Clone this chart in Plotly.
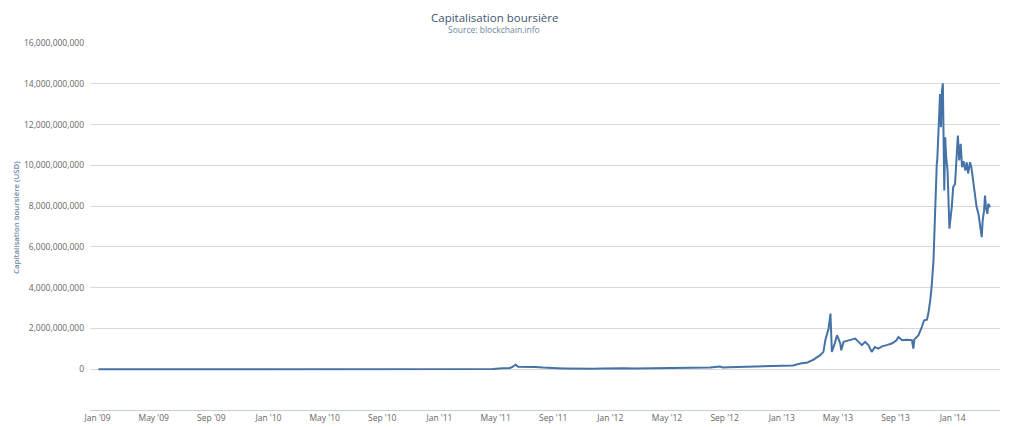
import plotly.graph_objects as go

# ---- data (market cap in billions of USD) ----
dates = [
    "2009-01-03", "2009-07-01", "2010-01-01", "2010-07-17", "2010-12-31",
    "2011-02-10", "2011-04-01", "2011-04-25", "2011-05-15", "2011-06-01",
    "2011-06-06", "2011-06-13", "2011-06-18", "2011-06-25", "2011-07-10",
    "2011-07-25", "2011-08-10", "2011-08-25", "2011-09-10", "2011-09-25",
    "2011-10-15", "2011-11-10", "2011-11-25", "2011-12-15", "2012-01-10",
    "2012-02-01", "2012-02-20", "2012-03-15", "2012-04-15", "2012-05-15",
    "2012-06-15", "2012-07-10", "2012-08-01", "2012-08-22", "2012-08-28",
    "2012-09-10", "2012-10-01", "2012-11-01", "2012-12-01", "2013-01-01",
    "2013-01-25", "2013-02-10", "2013-02-25", "2013-03-10", "2013-03-18",
    "2013-03-24", "2013-03-31", "2013-04-04", "2013-04-08", "2013-04-11",
    "2013-04-15", "2013-04-16", "2013-04-18", "2013-04-23", "2013-04-29",
    "2013-05-02", "2013-05-06", "2013-05-08", "2013-05-13", "2013-05-20",
    "2013-05-27", "2013-06-07", "2013-06-14", "2013-06-21", "2013-06-28",
    "2013-07-05", "2013-07-12", "2013-07-19", "2013-07-26", "2013-08-03",
    "2013-08-13", "2013-08-24", "2013-09-03", "2013-09-07", "2013-09-15",
    "2013-09-25", "2013-10-06", "2013-10-09", "2013-10-11", "2013-10-20",
    "2013-10-27", "2013-11-01", "2013-11-07", "2013-11-10", "2013-11-14",
    "2013-11-17", "2013-11-21", "2013-11-23", "2013-11-25", "2013-11-28",
    "2013-11-29", "2013-12-01", "2013-12-03", "2013-12-05", "2013-12-07",
    "2013-12-09", "2013-12-11", "2013-12-12", "2013-12-14", "2013-12-16",
    "2013-12-18", "2013-12-21", "2013-12-25", "2013-12-30", "2014-01-02",
    "2014-01-06", "2014-01-09", "2014-01-12", "2014-01-15", "2014-01-18",
    "2014-01-21", "2014-01-24", "2014-01-28", "2014-01-31", "2014-02-03",
    "2014-02-07", "2014-02-10", "2014-02-14", "2014-02-18", "2014-02-21",
    "2014-02-25", "2014-02-28", "2014-03-04", "2014-03-06", "2014-03-09",
    "2014-03-11", "2014-03-13", "2014-03-16", "2014-03-18", "2014-03-22",
]
market_cap_bn = [
    0.0, 0.0, 0.0, 0.0002, 0.0015,
    0.005, 0.004, 0.01, 0.05, 0.06,
    0.12, 0.22, 0.12, 0.12, 0.11,
    0.11, 0.08, 0.08, 0.05, 0.04,
    0.025, 0.02, 0.025, 0.03, 0.05,
    0.05, 0.04, 0.045, 0.045, 0.048,
    0.06, 0.075, 0.09, 0.13, 0.09,
    0.10, 0.115, 0.11, 0.13, 0.15,
    0.18, 0.28, 0.33, 0.47, 0.58,
    0.69, 0.85, 1.42, 1.75, 2.0,
    2.73, 1.9, 0.85, 1.18, 1.67,
    1.5, 1.26, 0.93, 1.34, 1.39,
    1.42, 1.5, 1.34, 1.18, 1.34,
    1.18, 0.85, 1.09, 1.01, 1.12,
    1.18, 1.26, 1.42, 1.58, 1.42,
    1.45, 1.42, 1.01, 1.45, 1.67,
    2.07, 2.40, 2.43, 2.73, 3.38,
    4.03, 5.34, 6.97, 8.28, 10.07,
    10.24, 11.38, 12.68, 13.5, 11.87,
    13.66, 14.02, 11.7, 8.77, 11.38,
    10.4, 9.75, 6.89, 7.95, 8.93,
    9.09, 10.24, 11.46, 10.24, 11.05,
    9.91, 10.2, 9.75, 10.15, 9.6,
    10.15, 9.9, 9.09, 8.28, 7.95,
    7.62, 7.13, 6.48, 7.3, 7.79,
    8.52, 7.95, 7.62, 8.11, 7.95,
]
y_ticks_bn = [0, 2, 4, 6, 8, 10, 12, 14, 16]

title_text = "Capitalisation boursière"
subtitle_text = "Source: blockchain.info"
y_title = "Capitalisation boursière (USD)"

values_usd = [v * 1e9 for v in market_cap_bn]
tick_vals = [t * 1e9 for t in y_ticks_bn]

FONT = "Open Sans"
PLOT_H = 427 - 43 - 17

fig = go.Figure()
fig.add_trace(go.Scatter(
    x=dates, y=values_usd, mode="lines",
    line=dict(color="#4572A7", width=2),
    hoverinfo="x+y", showlegend=False,
))

fig.update_layout(
    width=1024, height=427,
    margin=dict(l=90, r=24, t=43, b=17),
    paper_bgcolor="white", plot_bgcolor="white",
    font=dict(family=FONT, color="#666666", size=8.5),
    xaxis=dict(
        type="date",
        range=["2008-12-16", "2014-04-12"],
        tick0="2009-01-01", dtick="M4", tickformat="%b '%y",
        showgrid=False, zeroline=False, automargin=False,
        showline=True, linecolor="#C0D0E0", linewidth=1,
        ticks="", ticklabelstandoff=0,
        tickfont=dict(family=FONT, size=8.5, color="#666666"),
    ),
    yaxis=dict(
        range=[-2e9, 16e9],
        tickvals=tick_vals, tickformat=",",
        showgrid=True, gridcolor="#D8D8D8", gridwidth=1,
        zeroline=False, showline=False, automargin=False,
        ticks="", ticklabelstandoff=5,
        tickfont=dict(family=FONT, size=8.5, color="#666666"),
    ),
    annotations=[
        dict(text=title_text, xref="paper", yref="paper",
             x=(494 - 90) / 910, y=1 + (43 - 17) / PLOT_H,
             xanchor="center", yanchor="middle", showarrow=False,
             font=dict(family=FONT, size=11.5, color="#3E576F")),
        dict(text=subtitle_text, xref="paper", yref="paper",
             x=(494 - 90) / 910, y=1 + (43 - 29.5) / PLOT_H,
             xanchor="center", yanchor="middle", showarrow=False,
             font=dict(family=FONT, size=8.5, color="#6D869F")),
        dict(text=y_title, xref="paper", yref="paper",
             x=(16 - 90) / 910, y=(410 - 218) / PLOT_H, textangle=-90,
             xanchor="center", yanchor="middle", showarrow=False,
             font=dict(family=FONT, size=7.8, weight=600, color="#6D869F")),
    ],
)

fig.write_html("out.html", config={"displayModeBar": False},
               post_script="document.body.style.margin='0px';")
